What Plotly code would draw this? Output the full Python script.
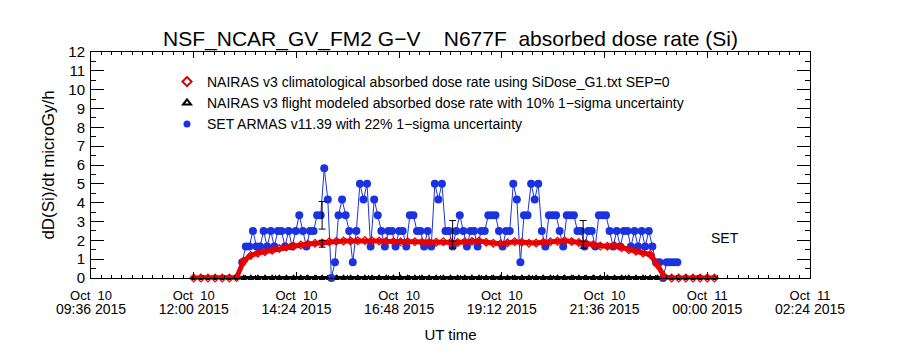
import pandas as pd
import plotly.graph_objects as go

# ---------------- data ----------------
X_RANGE = ["2015-10-10 09:36", "2015-10-11 02:24"]
tick_vals = ["2015-10-10 09:36", "2015-10-10 12:00", "2015-10-10 14:24", "2015-10-10 16:48",
             "2015-10-10 19:12", "2015-10-10 21:36", "2015-10-11 00:00", "2015-10-11 02:24"]
tick_line1 = ["Oct\u00a0\u00a010", "Oct\u00a0\u00a010", "Oct\u00a0\u00a010", "Oct\u00a0\u00a010",
              "Oct\u00a0\u00a010", "Oct\u00a0\u00a010", "Oct\u00a0\u00a011", "Oct\u00a0\u00a011"]
tick_line2 = ["09:36 2015", "12:00 2015", "14:24 2015", "16:48 2015",
              "19:12 2015", "21:36 2015", "00:00 2015", "02:24 2015"]

# NAIRAS climatological (red), 10-minute cadence starting 12:00
red_start = "2015-10-10 12:00"
red_vals = [0, 0, 0, 0, 0, 0,
            0.02, 0.9, 1.2, 1.32, 1.4, 1.48,
            1.56, 1.64, 1.7, 1.75, 1.8, 1.84,
            1.86, 1.92, 1.95, 1.96, 1.97, 1.98,
            1.99, 1.98, 1.97, 1.95, 1.94, 1.93,
            1.92, 1.93, 1.9, 1.88, 1.9, 1.92,
            1.9, 1.88, 1.92, 1.95, 1.97, 1.9,
            1.84, 1.82, 1.87, 1.93, 1.9, 1.85,
            1.86, 1.9, 1.93, 1.95, 1.98, 1.94,
            1.88, 1.84, 1.76, 1.7, 1.68, 1.72,
            1.6, 1.5, 1.42, 1.33, 1.25, 0.7,
            0.05, 0, 0, 0, 0, 0,
            0, 0]

# NAIRAS flight modeled (black), same cadence
model_vals = [0, 0, 0, 0, 0, 0, 0, 0, 0, 0, 0, 0, 0, 0, 0, 0, 0, 0, 0, 0, 0, 0, 0, 0, 0,
              0, 0, 0, 0, 0, 0, 0, 0, 0, 0, 0, 0, 0, 0, 0, 0, 0, 0, 0, 0, 0, 0, 0, 0, 0,
              0, 0, 0, 0, 0, 0, 0, 0, 0, 0, 0, 0, 0, 0, 0, 0, 0, 0, 0, 0, 0, 0, 0, 0]

# error bar samples
err_times = ["2015-10-10 15:00", "2015-10-10 18:03", "2015-10-10 21:06"]
model_err_vals = [1.82, 1.76, 1.76]
set_err_vals = [3.33, 2.5, 2.5]

# SET ARMAS (blue), 5-minute cadence starting 13:08
set_start = "2015-10-10 13:08"
set_vals = [0.83, 1.67, 1.67, 2.5, 1.67, 1.67, 2.5, 1.67, 2.5, 1.67,
            2.5, 2.5, 1.67, 2.5, 1.67, 2.5, 3.33, 2.5, 1.67, 2.5,
            2.5, 3.33, 3.33, 5.83, 4.17, 0, 0.83, 3.33, 4.17, 3.33,
            2.5, 0.83, 2.5, 5.0, 4.17, 5.0, 1.67, 4.17, 3.33, 2.5,
            1.67, 2.5, 2.5, 1.67, 2.5, 2.5, 1.67, 3.33, 3.33, 2.5,
            2.5, 1.67, 2.5, 1.67, 5.0, 4.17, 5.0, 2.5, 2.5, 1.67,
            2.5, 3.33, 2.5, 1.67, 2.5, 2.5, 1.67, 2.5, 2.5, 3.33,
            3.33, 3.33, 2.5, 1.67, 2.5, 2.5, 5.0, 4.17, 0.83, 3.33,
            3.33, 5.0, 4.17, 5.0, 2.5, 1.67, 3.33, 3.33, 3.33, 2.5,
            1.67, 3.33, 3.33, 3.33, 2.5, 2.5, 1.67, 2.5, 2.5, 1.67,
            3.33, 3.33, 3.33, 2.5, 1.67, 2.5, 1.67, 2.5, 2.5, 1.67,
            2.5, 1.67, 2.5, 1.67, 2.5, 1.67, 0.83, 0.83, 0, 0.83,
            0.83, 0.83, 0.83]

legend_names = [
    "NAIRAS v3 climatological absorbed dose rate using SiDose_G1.txt SEP=0",
    "NAIRAS v3 flight modeled absorbed dose rate with 10% 1\u2212sigma uncertainty",
    "SET ARMAS v11.39 with 22% 1\u2212sigma uncertainty",
]
title_text = "NSF_NCAR_GV_FM2 G\u2212V\u00a0\u00a0\u00a0\u00a0N677F\u00a0\u00a0absorbed dose rate (Si)"
y_title = "dD(Si)/dt microGy/h"
x_title = "UT time"

# ---------------- figure ----------------
RED = "#e80000"
BLUE = "#1a32e0"
FONT = "Liberation Sans, Arial, sans-serif"

red_t = pd.date_range(red_start, periods=len(red_vals), freq="10min")
model_t = pd.date_range(red_start, periods=len(model_vals), freq="10min")
set_t = pd.date_range(set_start, periods=len(set_vals), freq="5min")

fig = go.Figure()

fig.add_trace(go.Scatter(x=model_t, y=model_vals, mode="lines+markers", showlegend=False,
                         line=dict(color="black", width=4),
                         marker=dict(symbol="triangle-up-open", size=5, color="black",
                                     line=dict(width=1.5, color="black")),
                         cliponaxis=False, hoverinfo="skip"))

fig.add_trace(go.Scatter(x=set_t, y=set_vals, mode="lines+markers", showlegend=False,
                         line=dict(color=BLUE, width=1),
                         marker=dict(symbol="circle", size=8, color=BLUE),
                         cliponaxis=False, hoverinfo="skip"))

fig.add_trace(go.Scatter(x=red_t, y=red_vals, mode="lines+markers", showlegend=False,
                         line=dict(color=RED, width=5),
                         marker=dict(symbol="diamond-open", size=6, color=RED,
                                     line=dict(width=1.2, color=RED)),
                         cliponaxis=False, hoverinfo="skip"))

fig.add_trace(go.Scatter(x=err_times, y=set_err_vals, mode="markers", showlegend=False,
                         marker=dict(size=2, opacity=0),
                         error_y=dict(type="percent", value=22, color="black", thickness=1, width=3.5),
                         hoverinfo="skip"))
fig.add_trace(go.Scatter(x=err_times, y=model_err_vals, mode="markers", showlegend=False,
                         marker=dict(size=2, opacity=0),
                         error_y=dict(type="percent", value=10, color="black", thickness=1, width=3.5),
                         hoverinfo="skip"))

# legend-only entries
fig.add_trace(go.Scatter(x=[None], y=[None], mode="markers", name=legend_names[0],
                         marker=dict(symbol="diamond-open", size=7, color="#d00000",
                                     line=dict(width=2, color="#d00000"))))
fig.add_trace(go.Scatter(x=[None], y=[None], mode="markers", name=legend_names[1],
                         marker=dict(symbol="triangle-up-open", size=7, color="black",
                                     line=dict(width=2, color="black"))))
fig.add_trace(go.Scatter(x=[None], y=[None], mode="markers", name=legend_names[2],
                         marker=dict(symbol="circle", size=7, color=BLUE)))

# carrier for the second row of date labels
fig.add_trace(go.Scatter(x=[], y=[], xaxis="x2", showlegend=False, hoverinfo="skip"))

fig.add_annotation(x="2015-10-11 00:25", y=2.1, xref="x", yref="y", text="SET",
                   showarrow=False, font=dict(size=14, family=FONT, color="black"))

fig.update_layout(
    width=900, height=350,
    margin=dict(l=91, r=90, t=52, b=72, autoexpand=False),
    paper_bgcolor="white", plot_bgcolor="white",
    font=dict(family=FONT, size=14, color="black"),
    title=dict(text=title_text, x=0.5, xref="paper", xanchor="center",
               y=1 - 38.5 / 350, yref="container", yanchor="middle",
               font=dict(size=21, family=FONT, color="black")),
    legend=dict(x=(167 - 91) / 719, y=(278 - 66) / 226, xref="paper", yref="paper",
                xanchor="left", yanchor="top", font=dict(size=14, family=FONT),
                bgcolor="rgba(0,0,0,0)", borderwidth=0, itemwidth=30, tracegroupgap=0),
    xaxis=dict(type="date", range=X_RANGE, tickmode="array", tickvals=tick_vals,
               ticktext=tick_line1, ticks="inside", ticklen=6, tickcolor="black",
               showline=True, linecolor="black", linewidth=1, mirror="ticks",
               showgrid=False, zeroline=False, ticklabelstandoff=5,
               tickfont=dict(size=13),
               minor=dict(ticks="inside", ticklen=3, dtick=864000, tick0=X_RANGE[0],
                          tickcolor="black", showgrid=False)),
    xaxis2=dict(type="date", range=X_RANGE, overlaying="x", anchor="y", side="bottom",
                tickmode="array", tickvals=tick_vals, ticktext=tick_line2,
                ticks="", showline=False, showgrid=False, zeroline=False,
                ticklabelstandoff=21, tickfont=dict(size=14),
                title=dict(text=x_title, font=dict(size=15), standoff=13)),
    yaxis=dict(range=[0, 12], tickmode="linear", tick0=0, dtick=1, ticks="inside",
               ticklen=13, tickcolor="black", showline=True, linecolor="black",
               linewidth=1, mirror="ticks", showgrid=False, zeroline=False,
               tickfont=dict(size=15), ticklabelstandoff=2,
               title=dict(text=y_title, font=dict(size=17), standoff=9),
               minor=dict(ticks="inside", ticklen=5, dtick=0.5, tickcolor="black",
                          showgrid=False)),
)

fig.write_html("out.html")
